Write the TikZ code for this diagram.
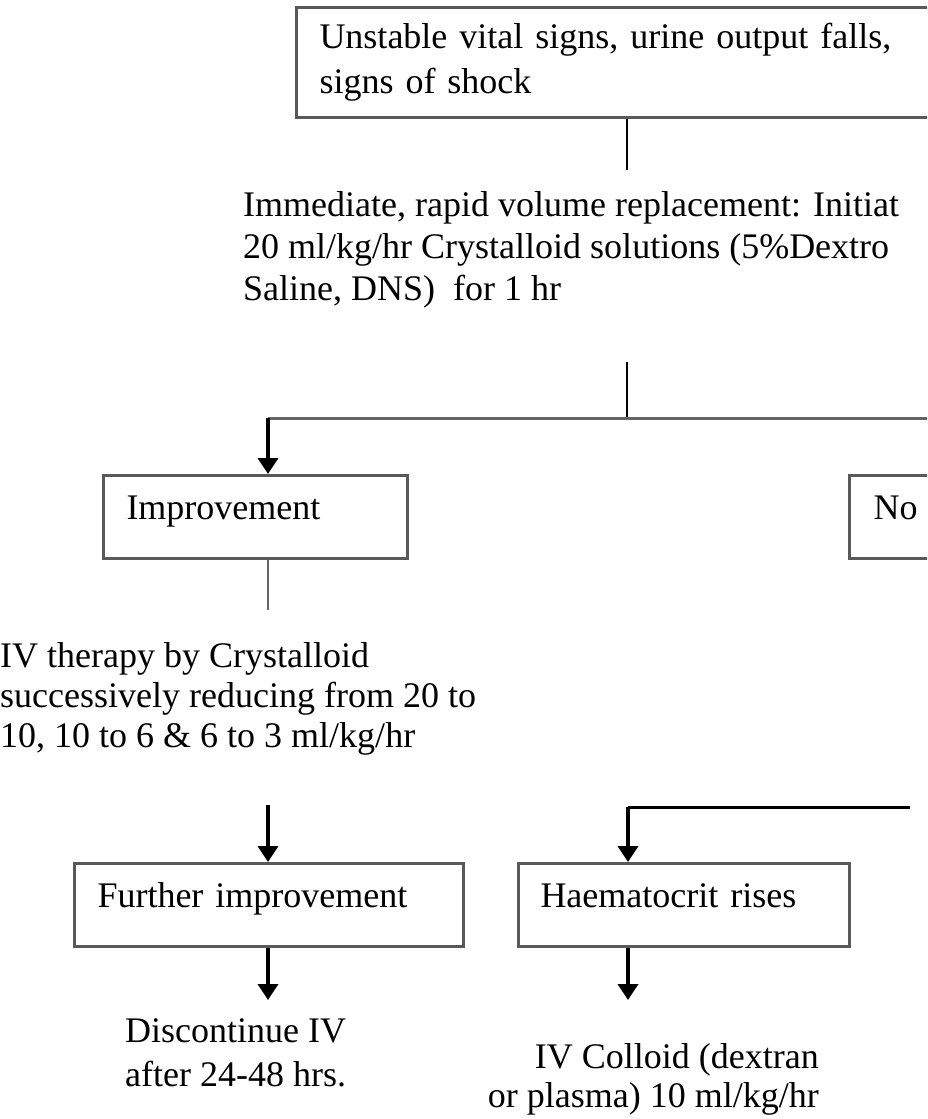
\documentclass[tikz,border=0pt]{standalone}
\usepackage{fontspec}
\setmainfont{Liberation Serif}
\usetikzlibrary{arrows.meta}

\tikzset{
  box/.style={draw=black!65, line width=3pt, rectangle, anchor=north west,
    inner xsep=23pt, align=left, font=\fontsize{36}{45}\selectfont},
  onebox/.style={box, text height=24pt, text depth=20pt},
  txt/.style={inner sep=0pt, anchor=north west, align=left},
  link/.style={line width=2.5pt},
  arr/.style={line width=3.5pt, -{Triangle[width=20pt,length=16pt]}},
}

\begin{document}
\begin{tikzpicture}[x=1pt,y=-1pt]
  \useasboundingbox (0,0) rectangle (927,1119);
  \clip (0,0) rectangle (927,1119);

  % boxes and texts
  \node[box, minimum width=670pt, minimum height=110pt, text width=624pt]
    (shock) at (295,6) {Unstable vital signs, urine output falls,\\signs of shock};

  \node[txt, font=\fontsize{36}{42}\selectfont] (replace) at (243,191)
    {Immediate, rapid volume replacement: Initiat\\
     20 ml/kg/hr Crystalloid solutions (5\%Dextro\\
     Saline, DNS)\ \ for 1 hr};

  \node[onebox, minimum width=304pt, minimum height=83pt, text width=258pt]
    (improve) at (102,474) {Improvement};
  \node[onebox, minimum width=304pt, minimum height=83pt, text width=256pt,
    inner xsep=24pt] (noimprove) at (848,474) {No};

  \node[txt, font=\fontsize{36}{40}\selectfont] (ivcryst) at (0,642)
    {IV therapy by Crystalloid\\
     successively reducing from 20 to\\
     10, 10 to 6 \& 6 to 3 ml/kg/hr};

  \node[onebox, minimum width=389pt, minimum height=83pt, text width=343pt]
    (further) at (73,862) {Further improvement};
  \node[onebox, minimum width=331pt, minimum height=83pt, text width=287pt,
    inner xsep=22pt] (haemat) at (517,862) {Haematocrit rises};

  \node[txt, font=\fontsize{36}{44}\selectfont] (discont) at (125,1018)
    {Discontinue IV\\after 24-48 hrs.};
  \node[txt, anchor=north east, align=right, font=\fontsize{36}{39}\selectfont]
    (colloid) at (819,1043) {IV Colloid (dextran\\or plasma) 10 ml/kg/hr};

  % connectors
  \coordinate (s1) at (627,170);
  \coordinate (r1) at (627,362);
  \coordinate (split) at (627,418);
  \coordinate (left) at (268,418);
  \coordinate (right) at (940,418);
  \coordinate (i1) at (268,610);
  \coordinate (i2) at (268,805);
  \coordinate (h1) at (628,807);
  \coordinate (h2) at (910,807);
  \coordinate (f1) at (268,1000);
  \coordinate (c1) at (628,1000);

  \draw[link] (shock.south -| s1) -- (s1);
  \draw[link] (r1) -- (split);
  \draw[black!60, line width=3pt] (left) -- (right);
  \draw[arr] (left) -- (left |- improve.north);
  \draw[link, black!60] (left |- improve.south) -- (i1);
  \draw[arr] (i2) -- (i2 |- further.north);
  \draw[line width=3pt] (h2) -- (h1);
  \draw[arr] (h1) -- (h1 |- haemat.north);
  \draw[arr] (further.south -| f1) -- (f1);
  \draw[arr] (haemat.south -| c1) -- (c1);

\end{tikzpicture}
\end{document}
